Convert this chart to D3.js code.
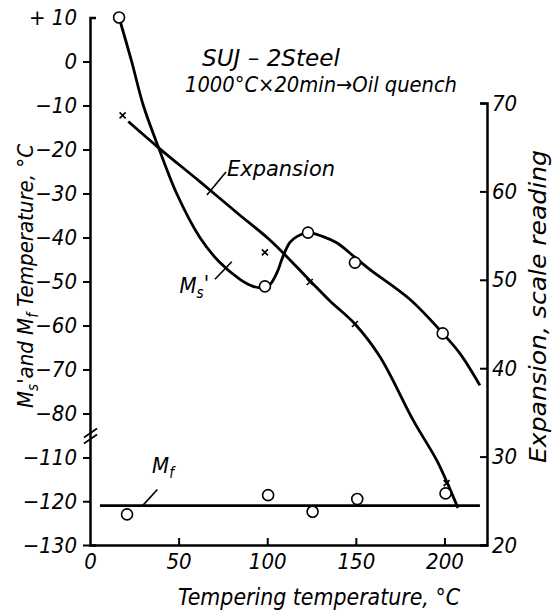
<!DOCTYPE html>
<html>
<head>
<meta charset="utf-8">
<script src="https://cdn.jsdelivr.net/npm/d3@7"></script>
<style>
  body { margin: 0; background: #fff; }
  svg text { font-family: 'DejaVu Sans Condensed', 'DejaVu Sans', sans-serif; font-style: italic; fill: #000; }
</style>
</head>
<body>
<div id="chart"></div>
<script>
// tempering temperature (deg C) vs Ms' (open circles), Mf (open circles), expansion (crosses)
var msTemp = [16.4, 98.7, 123, 149.5, 199];
var msVal = [10, -51.1, -38.9, -45.7, -61.8];
var msCurve = [[16.4, 10], [23.5, 0], [30.1, -10], [39.1, -20], [48.9, -30], [62, -40], [73.3, -45.7],
  [84.6, -49.5], [92, -51.1], [97.5, -51.4], [101.5, -50.7], [105.5, -48], [108.9, -44.3], [112.8, -41.1],
  [116.7, -39.8], [123, -38.9], [131.5, -39.8], [139.2, -41.2], [149.5, -44.5], [158, -47.3],
  [180.6, -54.1], [199.1, -61.8], [208.8, -66.4], [220, -73.6]];

var mfTemp = [20.9, 100.5, 125.6, 150.8, 200.6];
var mfVal = [-123, -118.6, -122.4, -119.5, -118.2];
var mfLine = [[5.6, -121], [220, -121]];

var expTemp = [18.4, 98.7, 124, 149.5, 201.2];
var expVal = [68.6, 53.1, 49.75, 45.0, 27.0];
var expCurve = [[21.6, 67.9], [38.9, 64.9], [62, 61.1], [84.6, 57.3], [101.5, 54.5], [124.1, 49.9],
  [135.4, 47.6], [149.5, 45.0], [163.6, 41.3], [182.4, 34.1], [195.6, 29.6], [201.2, 27.2], [207.6, 24.2]];

var xTicks = [0, 50, 100, 150, 200];
var leftTicks = [10, 0, -10, -20, -30, -40, -50, -60, -70, -80, -110, -120, -130];
var rightTicks = [20, 30, 40, 50, 60, 70];

var width = 553, height = 614;

var svg = d3.select("#chart")
  .append("svg")
  .attr("width", width)
  .attr("height", height);

var x = d3.scaleLinear().domain([0, 224]).range([90, 487]);
// broken left axis: -85..-105 is cut out
var yL = d3.scaleLinear().domain([-130, -110, -80, 10]).range([545, 457.5, 413.5, 17.5]);
var yR = d3.scaleLinear().domain([20, 70]).range([545, 103]);

function fmtL(d) { return d > 0 ? "+ " + d : d < 0 ? "\u2212" + Math.abs(d) : "0"; }

var axisStyle = function(g) {
  g.attr("font-family", null).attr("font-size", null);
  g.select(".domain").attr("stroke-width", 2.5);
  g.selectAll(".tick line").attr("stroke-width", 2);
  g.selectAll(".tick text").style("font-size", "22px");
};

var gL = svg.append("g")
  .attr("transform", "translate(90,0)")
  .call(d3.axisLeft(yL).tickValues(leftTicks).tickFormat(fmtL)
    .tickSizeInner(7).tickSizeOuter(-6).tickPadding(6))
  .call(axisStyle);
gL.selectAll(".tick").filter(function(d) { return d === 10; }).select("line").remove();

svg.append("g")
  .attr("transform", "translate(487,0)")
  .call(d3.axisRight(yR).tickValues(rightTicks)
    .tickSizeInner(-7).tickSizeOuter(-7).tickPadding(5))
  .call(axisStyle);

var gB = svg.append("g")
  .attr("transform", "translate(0,545)")
  .call(d3.axisBottom(x).tickValues(xTicks)
    .tickSizeInner(-7).tickSizeOuter(0).tickPadding(8))
  .call(axisStyle);
gB.selectAll(".tick").filter(function(d) { return d === 0; }).select("line").remove();

// axis break marks
var by = (yL(-80) + yL(-110)) / 2;
[-3, 3].forEach(function(o) {
  svg.append("line")
    .attr("x1", 84).attr("y1", by + 5 + o)
    .attr("x2", 97).attr("y2", by - 4 + o)
    .attr("stroke", "#000").attr("stroke-width", 1.8);
});

var line = d3.line().curve(d3.curveCatmullRom.alpha(0.5));

svg.append("path")
  .attr("d", line(msCurve.map(function(p) { return [x(p[0]), yL(p[1])]; })))
  .attr("fill", "none").attr("stroke", "#000").attr("stroke-width", 2.8);

svg.append("path")
  .attr("d", line(expCurve.map(function(p) { return [x(p[0]), yR(p[1])]; })))
  .attr("fill", "none").attr("stroke", "#000").attr("stroke-width", 2.8);

svg.append("path")
  .attr("d", d3.line()(mfLine.map(function(p) { return [x(p[0]), yL(p[1])]; })))
  .attr("fill", "none").attr("stroke", "#000").attr("stroke-width", 2.8);

function circles(tx, vals) {
  svg.append("g").selectAll("circle")
    .data(tx)
    .enter()
    .append("circle")
    .attr("cx", function(d) { return x(d); })
    .attr("cy", function(d, i) { return yL(vals[i]); })
    .attr("r", 5.5)
    .attr("fill", "#fff")
    .attr("stroke", "#000")
    .attr("stroke-width", 1.6);
}
circles(msTemp, msVal);
circles(mfTemp, mfVal);

svg.append("g").selectAll("path")
  .data(expTemp)
  .enter()
  .append("path")
  .attr("d", function(d, i) {
    var cx = x(d), cy = yR(expVal[i]), s = 3;
    return "M" + (cx - s) + "," + (cy - s) + "L" + (cx + s) + "," + (cy + s) +
      "M" + (cx - s) + "," + (cy + s) + "L" + (cx + s) + "," + (cy - s);
  })
  .attr("stroke", "#000").attr("stroke-width", 1.6);

// curve labels with leaders
function leader(x1, y1, x2, y2) {
  svg.append("line").attr("x1", x1).attr("y1", y1).attr("x2", x2).attr("y2", y2)
    .attr("stroke", "#000").attr("stroke-width", 1.6);
}
leader(x(66), yR(59.6), x(76.7), yR(62.2));
svg.append("text").attr("x", x(77.3)).attr("y", yR(61.7)).style("font-size", "22px")
  .attr("textLength", 108).attr("lengthAdjust", "spacingAndGlyphs").text("Expansion");

leader(x(70.5), yL(-49.5), x(80), yL(-45.5));
var ms = svg.append("text").attr("x", x(50.5)).attr("y", yL(-52.5)).style("font-size", "22px");
ms.append("tspan").text("M");
ms.append("tspan").attr("dy", 5).style("font-size", "15px").text("s");
ms.append("tspan").attr("dy", -7).text("'");

leader(x(29.7), yL(-121), x(38), yL(-117.3));
var mf = svg.append("text").attr("x", x(35)).attr("y", yL(-113.5)).style("font-size", "22px");
mf.append("tspan").text("M");
mf.append("tspan").attr("dy", 5).style("font-size", "15px").text("f");

// header
svg.append("text").attr("x", 202).attr("y", 66)
  .attr("textLength", 138).attr("lengthAdjust", "spacingAndGlyphs")
  .style("font-size", "23px").text("SUJ \u2013 2Steel");
svg.append("text").attr("x", 185).attr("y", 92)
  .attr("textLength", 272).attr("lengthAdjust", "spacingAndGlyphs")
  .style("font-size", "22px").text("1000\u00b0C\u00d720min\u2192Oil quench");

// axis titles
svg.append("text").attr("x", 178).attr("y", 605)
  .attr("textLength", 282).attr("lengthAdjust", "spacingAndGlyphs")
  .style("font-size", "23px").text("Tempering temperature, \u00b0C");

var yt = svg.append("text").attr("transform", "translate(33,276) rotate(-90)")
  .attr("text-anchor", "middle").style("font-size", "22px");
yt.append("tspan").text("M");
yt.append("tspan").attr("dy", 5).style("font-size", "15px").text("s");
yt.append("tspan").attr("dy", -5).text("'and M");
yt.append("tspan").attr("dy", 5).style("font-size", "15px").text("f");
yt.append("tspan").attr("dy", -5).text(" Temperature, \u00b0C");

svg.append("text").attr("transform", "translate(546,463) rotate(-90)")
  .attr("textLength", 313).attr("lengthAdjust", "spacingAndGlyphs")
  .style("font-size", "23px").text("Expansion, scale reading");
</script>
</body>
</html>
